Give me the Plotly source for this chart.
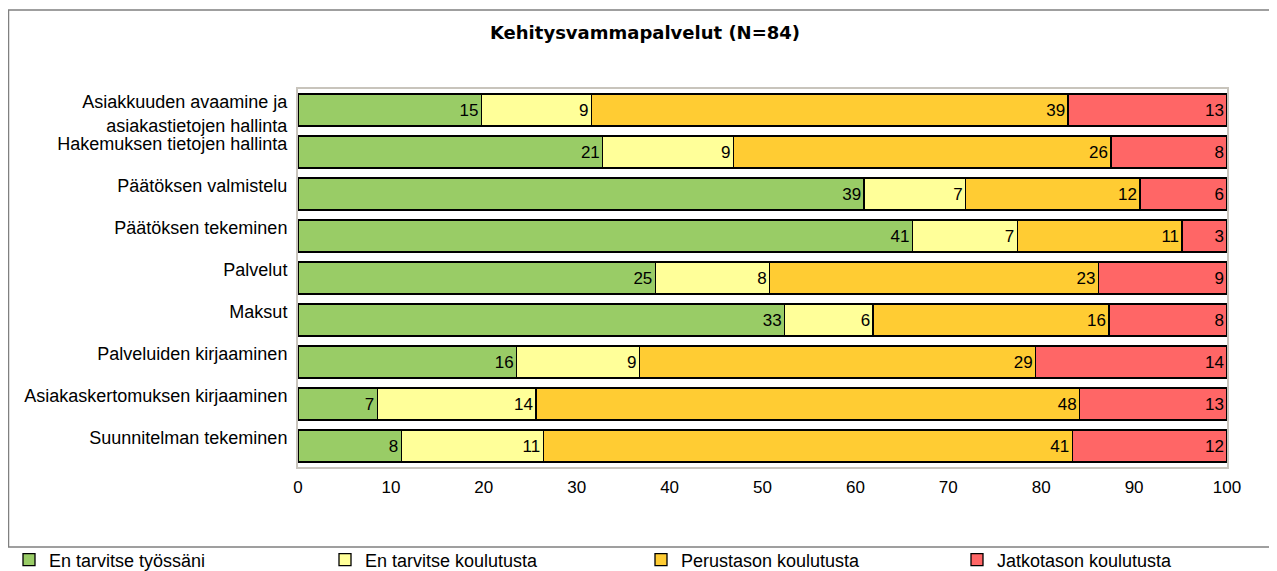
import numpy as np
import plotly.graph_objects as go

categories = [
    "Asiakkuuden avaamine ja asiakastietojen hallinta",
    "Hakemuksen tietojen hallinta",
    "Päätöksen valmistelu",
    "Päätöksen tekeminen",
    "Palvelut",
    "Maksut",
    "Palveluiden kirjaaminen",
    "Asiakaskertomuksen kirjaaminen",
    "Suunnitelman tekeminen",
]
y_tick_labels = [
    "<br>Asiakkuuden avaamine ja<br>asiakastietojen hallinta",
    "Hakemuksen tietojen hallinta",
    "Päätöksen valmistelu",
    "Päätöksen tekeminen",
    "Palvelut",
    "Maksut",
    "Palveluiden kirjaaminen",
    "Asiakaskertomuksen kirjaaminen",
    "Suunnitelman tekeminen",
]
series_names = ["En tarvitse työssäni", "En tarvitse koulutusta",
                "Perustason koulutusta", "Jatkotason koulutusta"]
en_tarvitse_tyossani = [15, 21, 39, 41, 25, 33, 16, 7, 8]
en_tarvitse_koulutusta = [9, 9, 7, 7, 8, 6, 9, 14, 11]
perustason_koulutusta = [39, 26, 12, 11, 23, 16, 29, 48, 41]
jatkotason_koulutusta = [13, 8, 6, 3, 9, 8, 14, 13, 12]
colors = ["#99CC66", "#FFFF99", "#FFCC33", "#FF6666"]
x_ticks = [0, 10, 20, 30, 40, 50, 60, 70, 80, 90, 100]

series = [en_tarvitse_tyossani, en_tarvitse_koulutusta,
          perustason_koulutusta, jatkotason_koulutusta]
totals = np.sum(np.array(series), axis=0)

FONT = "Liberation Sans, Arial, sans-serif"
FS = 17
legend_ids = ["legend", "legend", "legend", "legend2"]
fig = go.Figure()
for name, vals, col, lg in zip(series_names, series, colors, legend_ids):
    pct = np.array(vals) / totals * 100
    fig.add_trace(go.Bar(
        y=categories, x=pct, name=name, orientation="h", legend=lg,
        marker=dict(color=col, line=dict(color="black", width=1.3)),
        text=[str(v) for v in vals], textposition="inside",
        insidetextanchor="end", textangle=0,
        textfont=dict(color="black", size=FS, family=FONT),
        constraintext="none",
    ))

# page is offset by an 8px body margin; work in page pixels and convert
OFF = 8
W, H = 1277 - OFF, 571 - OFF
L, R, T, B = 298 - OFF, 1227 - OFF, 89 - OFF, 467 - OFF


def px_x(p):
    return (p - OFF - L) / (R - L)


def px_y(p):
    return (B - (p - OFF)) / (B - T)


leg_common = dict(orientation="h", xanchor="left", yanchor="middle",
                  y=px_y(560), entrywidth=271, entrywidthmode="pixels",
                  font=dict(size=18, family=FONT), traceorder="normal",
                  bgcolor="rgba(0,0,0,0)")

fig.update_layout(
    width=W, height=H, barmode="stack", bargap=0.24,
    margin=dict(l=L, r=W - R, t=T, b=H - B, autoexpand=False),
    paper_bgcolor="white", plot_bgcolor="white",
    font=dict(family=FONT, size=FS, color="black"),
    title=dict(text="<b>Kehitysvammapalvelut (N=84)</b>", x=(645 - OFF) / W, xanchor="center",
               y=1 - (33 - OFF) / H, yanchor="middle",
               font=dict(size=18, family="DejaVu Sans, Liberation Sans, sans-serif", color="black")),
    showlegend=True,
    legend=dict(x=px_x(9), **leg_common),
    legend2=dict(x=px_x(957), **leg_common),
    xaxis=dict(range=[0, 100], tickvals=x_ticks, showgrid=False, zeroline=False,
               showline=True, linecolor="#C8C4BC", linewidth=2, mirror=True,
               ticks="", ticklabelstandoff=4, tickfont=dict(size=FS)),
    yaxis=dict(autorange="reversed", showgrid=False, showline=True, linecolor="#C8C4BC",
               linewidth=2, mirror=True, ticks="", ticklabelstandoff=5,
               tickmode="array", tickvals=categories, ticktext=y_tick_labels,
               ticklabelshift=8, tickfont=dict(size=18)),
    shapes=[dict(type="rect", xref="paper", yref="paper",
                 x0=px_x(8.5), x1=px_x(1276.5),
                 y0=px_y(547), y1=px_y(10),
                 line=dict(color="#808080", width=1.5), fillcolor="rgba(0,0,0,0)",
                 layer="below")],
    hovermode=False,
)
fig.write_html("out.html")
